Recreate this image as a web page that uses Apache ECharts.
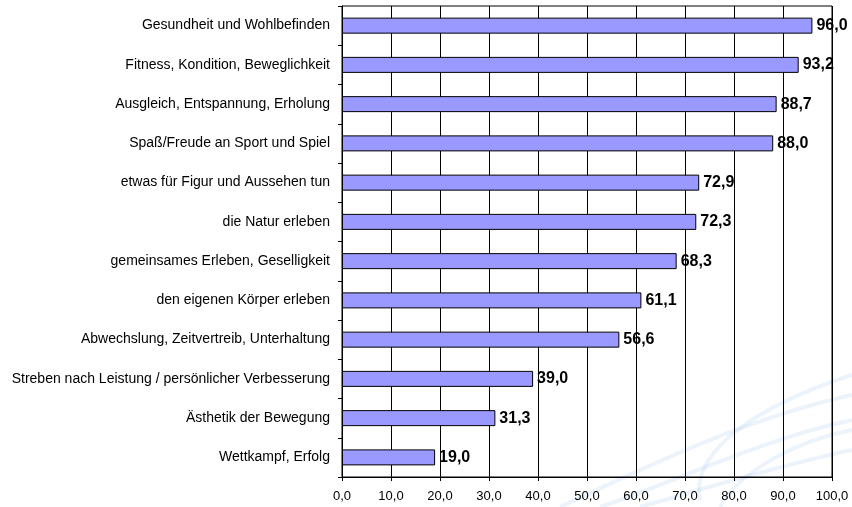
<!DOCTYPE html>
<html>
<head>
<meta charset="utf-8">
<script src="https://cdn.jsdelivr.net/npm/echarts@6/dist/echarts.min.js"></script>
<style>
  html, body { margin: 0; padding: 0; background: #fff; }
  #chart { width: 852px; height: 507px; }
</style>
</head>
<body>
<div id="chart"></div>
<script>
// categories, top to bottom
var categories = [
  'Gesundheit und Wohlbefinden',
  'Fitness, Kondition, Beweglichkeit',
  'Ausgleich, Entspannung, Erholung',
  'Spaß/Freude an Sport und Spiel',
  'etwas für Figur und Aussehen tun',
  'die Natur erleben',
  'gemeinsames Erleben, Geselligkeit',
  'den eigenen Körper erleben',
  'Abwechslung, Zeitvertreib, Unterhaltung',
  'Streben nach Leistung / persönlicher Verbesserung',
  'Ästhetik der Bewegung',
  'Wettkampf, Erfolg'
];
var values = [96.0, 93.2, 88.7, 88.0, 72.9, 72.3, 68.3, 61.1, 56.6, 39.0, 31.3, 19.0];

function fmt(v) {
  return v.toFixed(1).replace('.', ',');
}

var chart = echarts.init(document.getElementById('chart'));

// faint swoosh in the background, lower right: [x1, y1, cpx1, cpy1, cpx2, cpy2, x2, y2]
var swoosh = [
  [560, 507, 640, 470, 740, 420, 852, 395],
  [600, 507, 680, 480, 760, 440, 852, 420],
  [700, 500, 690, 450, 760, 405, 852, 375],
  [720, 507, 740, 470, 800, 440, 852, 430],
  [640, 507, 700, 490, 780, 465, 852, 450]
];

var option = {
  animation: false,
  backgroundColor: '#fff',
  textStyle: { fontFamily: 'Liberation Sans, Arial, sans-serif' },
  graphic: swoosh.map(function (c) {
    return {
      type: 'bezierCurve',
      z: -10,
      silent: true,
      shape: { x1: c[0], y1: c[1], cpx1: c[2], cpy1: c[3], cpx2: c[4], cpy2: c[5], x2: c[6], y2: c[7] },
      style: { fill: null, stroke: 'rgba(170,200,235,0.22)', lineWidth: 4 }
    };
  }),
  grid: {
    left: 342, right: 20, top: 6, bottom: 30,
    show: true, borderColor: '#000', borderWidth: 1,
    backgroundColor: 'transparent'
  },
  xAxis: {
    type: 'value',
    min: 0, max: 100, interval: 10,
    axisLine: { show: true, lineStyle: { color: '#000', width: 1 } },
    axisTick: { show: true, length: 4, lineStyle: { color: '#000' } },
    axisLabel: {
      color: '#000', fontSize: 13, margin: 13,
      formatter: function (v) { return fmt(v); }
    },
    splitLine: { show: true, lineStyle: { color: '#000', width: 1 } }
  },
  yAxis: {
    type: 'category',
    inverse: true,
    data: categories,
    axisLine: { show: true, lineStyle: { color: '#000', width: 1 } },
    axisTick: { show: true, length: 4, lineStyle: { color: '#000' } },
    axisLabel: { color: '#000', fontSize: 14, margin: 12 },
    splitLine: { show: false }
  },
  series: [{
    type: 'bar',
    data: values,
    barWidth: 16,
    itemStyle: { color: '#9999FF', borderColor: '#000', borderWidth: 1 },
    label: {
      show: true,
      position: 'right',
      distance: 4,
      color: '#000',
      fontSize: 16,
      fontWeight: 'bold',
      formatter: function (p) { return fmt(p.value); }
    }
  }]
};

chart.setOption(option);
</script>
</body>
</html>
